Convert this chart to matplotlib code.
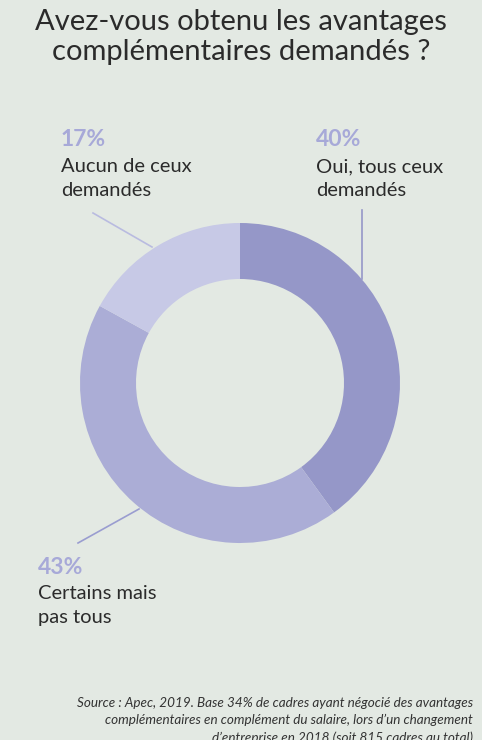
import matplotlib.pyplot as plt

labels = ['Oui, tous ceux\ndemandés', 'Certains mais\npas tous', 'Aucun de ceux\ndemandés']
values = [40, 43, 17]
colors = ['#9597c8', '#abadd6', '#c7c9e6']

W, H = 482, 740
plt.rcParams['font.family'] = ['Lato', 'DejaVu Sans']

fig = plt.figure(figsize=(W / 100, H / 100), dpi=100)
fig.patch.set_facecolor('#e3e9e3')
ax = fig.add_axes([0, 0, 1, 1])


def Y(y):
    # pixel row from the top -> data y
    return H - y


ax.pie(values, colors=colors, startangle=90, counterclock=False,
       center=(240, Y(383)), radius=160, frame=True,
       wedgeprops=dict(width=56, linewidth=0))
ax.set_xlim(0, W)
ax.set_ylim(0, H)
ax.set_aspect('equal')
ax.axis('off')

ax.text(241, Y(37), 'Avez-vous obtenu les avantages\ncomplémentaires demandés ?',
        ha='center', va='center', fontsize=21, color='#2b2b2b', linespacing=1.15)

# leader lines
ax.plot([362, 362], [Y(210), Y(279)], color='#9597c8', lw=1.2)
ax.plot([93, 152], [Y(213), Y(247)], color='#b9bbe0', lw=1.2)
ax.plot([78, 139], [Y(543), Y(509)], color='#9a9dd0', lw=1.2)

pct_col = '#a7a9d8'
txt_col = '#2b2b2b'
annots = [(316, 140, values[0], labels[0]),
          (38, 567, values[1], labels[1]),
          (61, 140, values[2], labels[2])]
for x, y, v, lab in annots:
    ax.text(x, Y(y), f'{v}%', ha='left', va='center', fontsize=16.5,
            fontweight='bold', color=pct_col)
    ax.text(x, Y(y + 18), lab, ha='left', va='top', fontsize=14.5,
            color=txt_col, linespacing=1.5)

ax.text(473, Y(697), "Source : Apec, 2019. Base 34% de cadres ayant négocié des avantages\n"
        "complémentaires en complément du salaire, lors d’un changement\n"
        "d’entreprise en 2018 (soit 815 cadres au total)",
        ha='right', va='top', fontsize=9.7, style='italic', color='#333333',
        linespacing=1.5)

fig.savefig('out.png', dpi=100, facecolor=fig.get_facecolor())
